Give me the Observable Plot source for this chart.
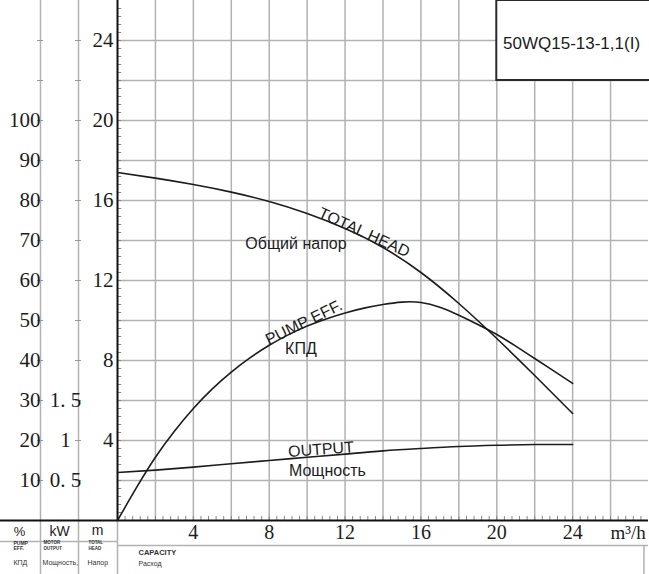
<!DOCTYPE html>
<html><head><meta charset="utf-8">
<script src="https://cdn.jsdelivr.net/npm/d3@7"></script>
<script src="https://cdn.jsdelivr.net/npm/@observablehq/plot@0.6"></script>
<style>html,body{margin:0;padding:0;background:#fff}#chart svg{display:block}</style>
</head><body><div id="chart"></div>
<script>
// ---- data ----
const flow = [0, 2, 4, 6, 8, 10, 12, 14, 16, 18, 20, 22, 24];               // m³/h
const head = [17.4, 17.12, 16.8, 16.42, 15.95, 15.35, 14.6, 13.65, 12.4, 10.85, 9.1, 7.25, 5.35]; // m
const effFlow = [0, 1, 2, 3, 4, 5, 6, 7, 8, 9, 10, 11, 12, 13, 14, 15, 16, 17, 18, 19, 20, 21, 22, 23, 24];
const efficiency = [0, 8.2, 15.8, 22.3, 28.0, 32.9, 37.1, 40.7, 43.8, 46.4, 48.6, 50.4, 51.9, 53.1, 54.0, 54.6, 54.5, 53.3, 51.3, 49.0, 46.5, 43.6, 40.5, 37.4, 34.3]; // %
const power = [0.6, 0.63, 0.667, 0.71, 0.75, 0.79, 0.83, 0.87, 0.9, 0.925, 0.94, 0.95, 0.95]; // kW
const flowTicks = [4, 8, 12, 16, 20, 24];
const headTicks = [4, 8, 12, 16, 20, 24];
const effTicks = [10, 20, 30, 40, 50, 60, 70, 80, 90, 100];
const powerTicks = [0.5, 1, 1.5];
const powerTickLabels = ["0. 5", "1", "1. 5"];
const modelName = "50WQ15-13-1,1(I)";

// secondary axis factors: 100 % ↔ 20 m, 1 kW ↔ 4 m
const effToHead = 1 / 5;
const kwToHead = 4;

const headRows = flow.map((q, i) => ({q, v: head[i]}));
const effRows = effFlow.map((q, i) => ({q, v: efficiency[i] * effToHead}));
const powRows = flow.map((q, i) => ({q, v: power[i] * kwToHead}));

const gridX = d3.range(2, 27, 2);
const gridY = d3.range(2, 25, 2);
const minorX = d3.range(0.4, 28, 0.4);
const minorY = d3.range(0.4, 26, 0.4);
const sideTicks = d3.range(2, 25, 2);

const INK = "#1c1c1c";
const GRID = "#b2b2b2";
const SERIF = "Liberation Serif, Times New Roman, serif";
const SANS = "Liberation Sans, Arial, sans-serif";
const px = (x, y) => ({frameAnchor: "top-left", dx: x - 117, dy: y, lineAnchor: "middle"});

const chart = Plot.plot({
  width: 649, height: 574,
  marginLeft: 117, marginRight: 1, marginTop: 0, marginBottom: 54,
  x: {domain: [0, 28], axis: null},
  y: {domain: [0, 26], axis: null},
  style: {background: "#fff"},
  marks: [
    // grid
    Plot.gridX({ticks: gridX, stroke: GRID, strokeOpacity: 1, strokeWidth: 1.5}),
    Plot.gridY({ticks: gridY, stroke: GRID, strokeOpacity: 1, strokeWidth: 1.5}),
    // left side columns
    Plot.ruleX([0], {y1: -2.7, y2: 26, dx: -77, stroke: GRID, strokeWidth: 1.5}),
    Plot.ruleX([0], {y1: -2.7, y2: 26, dx: -39, stroke: GRID, strokeWidth: 1.5}),
    Plot.ruleX([0], {y1: -2.7, y2: 0, stroke: GRID, strokeWidth: 1.5}),
    Plot.ruleY(sideTicks, {x1: -4.22, x2: -3.9, stroke: "#999"}),
    Plot.ruleY(sideTicks, {x1: -2.22, x2: -1.9, stroke: "#999"}),
    // bottom table
    Plot.ruleY([-1.05], {x1: -6.2, x2: 0, stroke: GRID, strokeWidth: 1.5}),
    Plot.ruleY([-1.25], {x1: 0, x2: 28, stroke: GRID, strokeWidth: 1.5}),
    Plot.ruleX([27.76], {y1: -2.7, y2: -1.25, stroke: GRID, strokeWidth: 1.5}),
    // minor ticks
    Plot.ruleY(minorY, {x1: 0, x2: 0.22, stroke: "#888", strokeWidth: 1}),
    Plot.ruleX(minorX, {y1: 0, y2: 0.2, stroke: "#888", strokeWidth: 1}),
    // axes
    Plot.ruleX([0], {y1: 0, y2: 26, stroke: "#111", strokeWidth: 2}),
    Plot.ruleY([0], {x1: -6.2, x2: 28, stroke: "#111", strokeWidth: 2}),
    // curves
    Plot.line(headRows, {x: "q", y: "v", curve: "natural", stroke: INK, strokeWidth: 1.6}),
    Plot.line(effRows, {x: "q", y: "v", curve: "natural", stroke: INK, strokeWidth: 1.6}),
    Plot.line(powRows, {x: "q", y: "v", curve: "natural", stroke: INK, strokeWidth: 1.6}),
    // tick labels
    Plot.text(headTicks, {y: d => d, text: d => String(d), frameAnchor: "left", dx: -4, textAnchor: "end", fontFamily: SERIF, fontSize: 21, fill: INK}),
    Plot.text(effTicks, {y: d => d * effToHead, text: d => String(d), frameAnchor: "left", dx: -77, textAnchor: "end", fontFamily: SERIF, fontSize: 21, fill: INK}),
    Plot.text(powerTicks, {y: d => d * kwToHead, text: (d, i) => powerTickLabels[i], frameAnchor: "left", dx: -52, textAnchor: "middle", fontFamily: SERIF, fontSize: 21, fill: INK}),
    Plot.text(flowTicks, {x: d => d, y: 0, dy: 12, text: d => String(d), textAnchor: "middle", fontFamily: SERIF, fontSize: 20, fill: INK}),
    Plot.text(["m³/h"], {x: 26.0, y: 0, dy: 12, text: d => d, textAnchor: "start", fontFamily: SERIF, fontSize: 19, fill: INK}),
    // curve labels
    Plot.text(["TOTAL HEAD"], {x: 13.0, y: 14.4, text: d => d, rotate: 24.5, fontFamily: SANS, fontSize: 16, fill: INK}),
    Plot.text(["Общий напор"], {x: 9.41, y: 13.85, text: d => d, fontFamily: SANS, fontSize: 16, fill: INK}),
    Plot.text(["PUMP EFF."], {x: 9.83, y: 9.9, text: d => d, rotate: -26, fontFamily: SANS, fontSize: 16, fill: INK}),
    Plot.text(["КПД"], {x: 9.67, y: 8.58, text: d => d, fontFamily: SANS, fontSize: 16, fill: INK}),
    Plot.text(["OUTPUT"], {x: 10.73, y: 3.55, text: d => d, rotate: -4, fontFamily: SANS, fontSize: 16, fill: INK}),
    Plot.text(["Мощность"], {x: 11.07, y: 2.5, text: d => d, fontFamily: SANS, fontSize: 16, fill: INK}),
    // table labels
    Plot.text(["%"], {text: d => d, ...px(19, 531), textAnchor: "middle", fontFamily: SANS, fontSize: 13, fill: INK}),
    Plot.text(["kW"], {text: d => d, ...px(59, 531), textAnchor: "middle", fontFamily: SANS, fontSize: 14, fill: INK}),
    Plot.text(["m"], {text: d => d, ...px(97, 530), textAnchor: "middle", fontFamily: SANS, fontSize: 14, fill: INK}),
    Plot.text(["PUMP", "EFF."], {text: d => d, frameAnchor: "left", dx: 13 - 117, y: (d, i) => -1.12 - i * 0.28, textAnchor: "start", fontFamily: SANS, fontSize: 5, fontWeight: "bold", fill: "#333"}),
    Plot.text(["MOTOR", "OUTPUT"], {text: d => d, frameAnchor: "left", dx: 43 - 117, y: (d, i) => -1.12 - i * 0.28, textAnchor: "start", fontFamily: SANS, fontSize: 4.5, fontWeight: "bold", fill: "#333"}),
    Plot.text(["TOTAL", "HEAD"], {text: d => d, frameAnchor: "left", dx: 88 - 117, y: (d, i) => -1.12 - i * 0.28, textAnchor: "start", fontFamily: SANS, fontSize: 4.5, fontWeight: "bold", fill: "#333"}),
    Plot.text(["КПД"], {text: d => d, ...px(13, 562.5), textAnchor: "start", fontFamily: SANS, fontSize: 7, fill: "#333"}),
    Plot.text(["Мощность,"], {text: d => d, ...px(42, 562.5), textAnchor: "start", fontFamily: SANS, fontSize: 7, fill: "#333"}),
    Plot.text(["Напор"], {text: d => d, ...px(87, 562.5), textAnchor: "start", fontFamily: SANS, fontSize: 7, fill: "#333"}),
    Plot.text(["CAPACITY"], {text: d => d, ...px(138, 552.5), textAnchor: "start", fontFamily: SANS, fontSize: 7.5, fontWeight: "bold", fill: "#333"}),
    Plot.text(["Расход"], {text: d => d, ...px(138, 563.5), textAnchor: "start", fontFamily: SANS, fontSize: 7, fill: "#333"}),
    // model box
    Plot.rect([0], {x1: 20, x2: 28.4, y1: 22, y2: 26, fill: "#fff", stroke: "#2a2a2a", strokeWidth: 2}),
    Plot.text([modelName], {x: 20.33, y: 23.85, text: d => d, textAnchor: "start", fontFamily: SANS, fontSize: 17, fill: INK})
  ]
});
document.getElementById("chart").append(chart);
</script>
</body></html>
